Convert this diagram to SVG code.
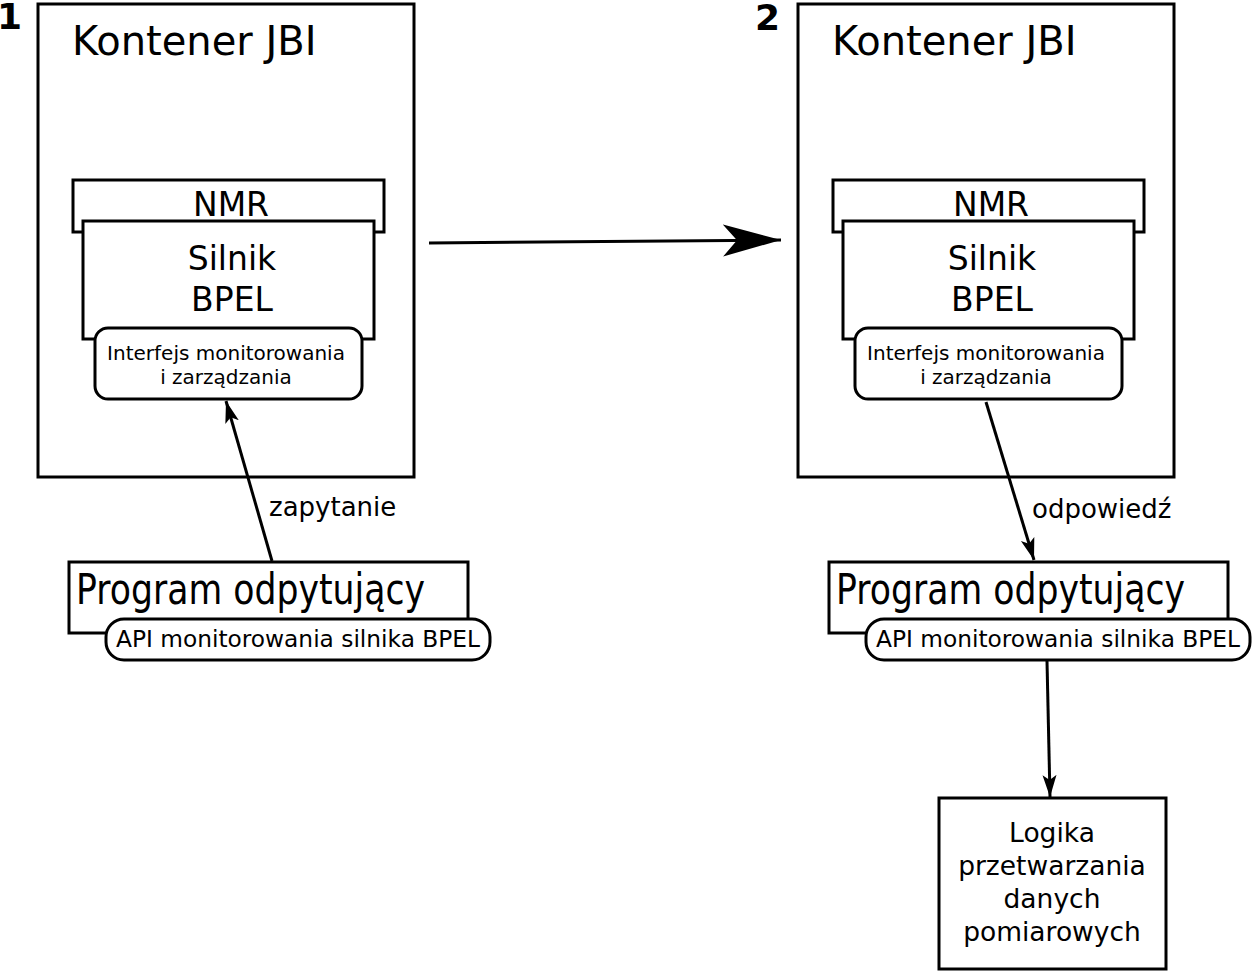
<svg xmlns="http://www.w3.org/2000/svg" width="1252" height="971" viewBox="0 0 1252 971">
<style>
.box{fill:#fff;stroke:#000;stroke-width:3}
.t{font-family:"DejaVu Sans",sans-serif;fill:#000}
.c{text-anchor:middle}
.con{stroke:#000;stroke-width:3;fill:none}
</style>
<defs>
<marker id="ah" viewBox="0 0 24 20" refX="22" refY="10" markerWidth="24" markerHeight="20" markerUnits="userSpaceOnUse" orient="auto">
<path d="M0,3 L22,10 L0,17 L5,10 Z" fill="#000"/>
</marker>
<marker id="big" viewBox="0 0 60 36" refX="58" refY="18" markerWidth="60" markerHeight="36" markerUnits="userSpaceOnUse" orient="auto">
<path d="M0,2 L58,18 L0,34 L14,18 Z" fill="#000"/>
</marker>
</defs>
<g id="panel1">
<text class="t" x="-3" y="29" font-size="36" font-weight="bold">1</text>
<g id="container1"><rect class="box" x="38" y="4" width="376" height="473"/><text class="t" x="72" y="55" font-size="40">Kontener JBI</text></g>
<g id="nmr1"><rect class="box" x="73" y="180" width="311" height="52"/><text class="t c" x="231" y="216" font-size="33">NMR</text></g>
<g id="bpel1"><rect class="box" x="83" y="221" width="291" height="118"/><text class="t c" x="232" y="270" font-size="33">Silnik</text><text class="t c" x="232" y="311" font-size="33">BPEL</text></g>
<g id="iface1"><rect class="box" x="95" y="328" width="267" height="71" rx="13"/><text class="t c" x="226" y="360" font-size="20">Interfejs monitorowania</text><text class="t c" x="226" y="384" font-size="20">i zarządzania</text></g>
<g id="prog1"><rect class="box" x="69" y="562" width="399" height="71"/><text class="t" x="76" y="604" font-size="42" textLength="349" lengthAdjust="spacingAndGlyphs">Program odpytujący</text></g>
<g id="api1"><rect class="box" x="106" y="619" width="384" height="41" rx="18"/><text class="t" x="116" y="647" font-size="23" textLength="364" lengthAdjust="spacingAndGlyphs">API monitorowania silnika BPEL</text></g>
</g>
<g id="panel2">
<text class="t" x="755" y="30" font-size="36" font-weight="bold">2</text>
<g id="container2"><rect class="box" x="798" y="4" width="376" height="473"/><text class="t" x="832" y="55" font-size="40">Kontener JBI</text></g>
<g id="nmr2"><rect class="box" x="833" y="180" width="311" height="52"/><text class="t c" x="991" y="216" font-size="33">NMR</text></g>
<g id="bpel2"><rect class="box" x="843" y="221" width="291" height="118"/><text class="t c" x="992" y="270" font-size="33">Silnik</text><text class="t c" x="992" y="311" font-size="33">BPEL</text></g>
<g id="iface2"><rect class="box" x="855" y="328" width="267" height="71" rx="13"/><text class="t c" x="986" y="360" font-size="20">Interfejs monitorowania</text><text class="t c" x="986" y="384" font-size="20">i zarządzania</text></g>
<g id="prog2"><rect class="box" x="829" y="562" width="399" height="71"/><text class="t" x="836" y="604" font-size="42" textLength="349" lengthAdjust="spacingAndGlyphs">Program odpytujący</text></g>
<g id="api2"><rect class="box" x="866" y="619" width="384" height="41" rx="18"/><text class="t" x="876" y="647" font-size="23" textLength="364" lengthAdjust="spacingAndGlyphs">API monitorowania silnika BPEL</text></g>
<g id="logika"><rect class="box" x="939" y="798" width="227" height="171"/>
<text class="t c" x="1052" y="842" font-size="26.5">Logika</text>
<text class="t c" x="1052" y="875" font-size="26.5">przetwarzania</text>
<text class="t c" x="1052" y="908" font-size="26.5">danych</text>
<text class="t c" x="1052" y="941" font-size="26.5">pomiarowych</text></g>
</g>
<g id="connectors">
<line class="con" x1="272" y1="561" x2="226" y2="401" marker-end="url(#ah)"/>
<text class="t" x="269" y="516" font-size="26">zapytanie</text>
<line class="con" x1="429" y1="243" x2="781" y2="240" marker-end="url(#big)"/>
<line class="con" x1="986" y1="402" x2="1034" y2="560" marker-end="url(#ah)"/>
<text class="t" x="1032" y="518" font-size="26">odpowiedź</text>
<line class="con" x1="1047" y1="661" x2="1050" y2="797" marker-end="url(#ah)"/>
</g>
</svg>
